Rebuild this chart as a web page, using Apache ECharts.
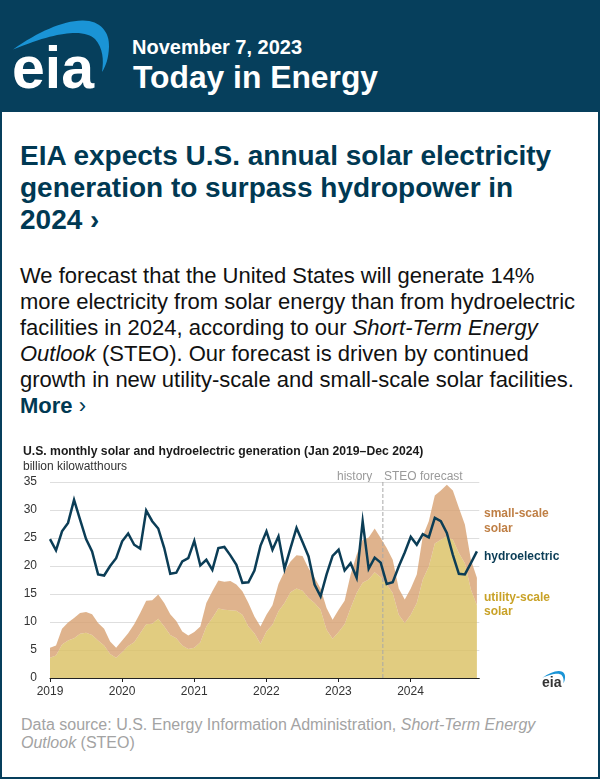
<!DOCTYPE html>
<html>
<head>
<meta charset="utf-8">
<title>Today in Energy</title>
<script src="https://cdn.jsdelivr.net/npm/echarts@6/dist/echarts.min.js"></script>
<style>
html, body { margin: 0; padding: 0; }
body { width: 600px; height: 779px; background: #063f5c; position: relative; overflow: hidden; font-family: "Liberation Sans", Arial, sans-serif; }
#panel { position: absolute; left: 2px; top: 112px; width: 596px; height: 665px; background: #fff; }
.abs { position: absolute; white-space: nowrap; }
#date { left: 132px; top: 35px; font-size: 20px; font-weight: bold; color: #fff; line-height: 24px; }
#today { left: 133px; top: 59px; font-size: 31.8px; font-weight: bold; color: #fff; line-height: 36px; }
#headline { left: 20px; top: 140px; font-size: 28px; font-weight: bold; color: #003953; line-height: 32px; }
#story { left: 20px; top: 263px; font-size: 22px; color: #111; line-height: 26px; }
#story b { color: #003953; }
#source { left: 21px; top: 716px; font-size: 16px; color: #a3a3a3; line-height: 18px; }
#leftt { position: absolute; left: 0; top: 440px; width: 600px; height: 270px; }
svg { position: absolute; }
</style>
</head>
<body>
<div id="panel"></div>
<svg style="left:0;top:0" width="125" height="105" viewBox="0 0 125 105">
  <path d="M13 49.5C38 32 62 21 82 20.5C100 20 110 32 109 47C108.500 58 106 66 102 72C104 60 103 48 95 39C86 30 62 29 13 49.5Z" fill="#1a94d6"/>
  <text x="12" y="88" font-family="Liberation Sans" font-size="59" font-weight="bold" fill="#fff">eia</text>
</svg>
<div id="date" class="abs">November 7, 2023</div>
<div id="today" class="abs">Today in Energy</div>
<div id="headline" class="abs">EIA expects U.S. annual solar electricity<br>generation to surpass hydropower in<br>2024 ›</div>
<div id="story" class="abs">We forecast that the United States will generate 14%<br>more electricity from solar energy than from hydroelectric<br>facilities in 2024, according to our <i>Short-Term Energy</i><br><i>Outlook</i> (STEO). Our forecast is driven by continued<br>growth in new utility-scale and small-scale solar facilities.<br><b>More</b> <span style="color:#003953">›</span></div>
<div id="leftt"></div>
<svg style="left:539px;top:666px" width="30" height="25" viewBox="0 0 125 105">
  <path d="M13 49.5C38 32 62 21 82 20.5C100 20 110 32 109 47C108.500 58 106 66 102 72C104 60 103 48 95 39C86 30 62 29 13 49.5Z" fill="#1a94d6"/>
  <text x="12" y="88" font-family="Liberation Sans" font-size="59" font-weight="bold" fill="#333">eia</text>
</svg>
<div id="source" class="abs">Data source: U.S. Energy Information Administration, <i>Short-Term Energy</i><br><i>Outlook</i> (STEO)</div>
<script>
var years = ['2019', '2020', '2021', '2022', '2023', '2024'];
var monthNames = ['Jan', 'Feb', 'Mar', 'Apr', 'May', 'Jun', 'Jul', 'Aug', 'Sep', 'Oct', 'Nov', 'Dec'];
// months since Jan 2019, for the frame axis
var yearTicks = [0, 12, 24, 36, 48, 60];
var forecastStart = 55.4;
var axisEnd = 71.45;

// billion kilowatthours, Jan 2019 - Dec 2024
var utility = [
  3.6, 4, 6, 6.7, 7.1, 7.9, 8.1, 7.7, 6.7, 5.8, 4.3, 3.6,
  4.6, 5.7, 6.4, 8, 9.6, 9.7, 10.6, 9.2, 7.7, 7.1, 5.8, 5.2,
  5.4, 6.4, 9.2, 10.7, 12.4, 12.2, 12.1, 12, 11.3, 9.2, 8, 6.1,
  8.3, 9.5, 11.9, 13.4, 15.3, 16, 15.6, 14.3, 13.4, 12.2, 8.6, 7,
  8.2, 9.6, 12.5, 15.2, 17, 17.6, 18.9, 18, 16.7, 15.2, 11.3, 9.8,
  11.3, 13.4, 17.6, 19.9, 24, 24.7, 25.3, 24.7, 22.3, 20.5, 15.8, 13
];
var smallScale = [
  1.8, 1.8, 2.8, 3.2, 3.6, 3.7, 3.7, 3.7, 3.1, 3, 2.2, 1.8,
  2.1, 2.3, 3.2, 3.6, 4.2, 4.2, 4.3, 4.2, 3.7, 3.1, 2.5, 2.4,
  2.8, 2.8, 4.2, 4.8, 5, 5, 5.2, 4.7, 4.2, 4.2, 3, 3.1,
  3, 3.5, 4.9, 5.6, 5.5, 5.9, 6.2, 5.3, 4.5, 3.8, 3.9, 3.4,
  4, 4.2, 6, 6.8, 7.7, 7.5, 7.8, 7, 6.5, 5.9, 4.7, 4.2,
  4.7, 5.1, 7.7, 8.1, 8.6, 8.8, 9.2, 8.8, 8.1, 6.9, 5.3, 4.9
];
var hydro = [
  24.8, 22.8, 26.2, 27.7, 31.8, 28.3, 24.8, 22.6, 18.5, 18.3, 20, 21.4,
  24.4, 25.8, 23.8, 23.1, 29.9, 28, 26.7, 23.2, 18.6, 18.8, 20.8, 21.4,
  24.5, 20.1, 21.1, 19.3, 23.2, 23.4, 21.9, 20.2, 17, 17.1, 19.2, 23.6,
  26.2, 22.9, 25.3, 19.5, 23.2, 26.8, 24.3, 21.7, 16.7, 14.6, 18.5, 21.8,
  22.9, 19.2, 20.5, 17.9, 28, 19.5, 21.5, 20.6, 16.8, 17.1, 19.9, 22.4,
  25.2, 23.8, 25.7, 25.1, 28.6, 28, 25.9, 22, 18.6, 18.5, 20.5, 22.6
];

var months = [];
years.forEach(function (y) {
  monthNames.forEach(function (m) { months.push(m + ' ' + y); });
});

var mychart = echarts.init(document.getElementById('leftt'));
var font = '"Liberation Sans", Arial, sans-serif';
var option = {
  animation: false,
  textStyle: { fontFamily: font },
  title: {
    left: 23,
    top: 6,
    text: 'U.S. monthly solar and hydroelectric generation (Jan 2019–Dec 2024)',
    subtext: 'billion kilowatthours',
    itemGap: 3,
    padding: 0,
    textStyle: { fontSize: 12.2, fontWeight: 'bold', color: '#1a1a1a', fontFamily: font },
    subtextStyle: { fontSize: 12, color: '#333', fontFamily: font }
  },
  // grid 0 is the frame (axis runs a little past Dec 2024), grid 1 holds the stacked months
  grid: [
    { left: 50, top: 42, width: 429.3, height: 196 },
    { left: 50, top: 42, width: 426.9, height: 196 }
  ],
  xAxis: [
    {
      type: 'value',
      gridIndex: 0,
      min: 0,
      max: axisEnd,
      splitLine: { show: false },
      axisLine: { show: true, onZero: false, lineStyle: { color: '#222', width: 1 } },
      axisTick: { show: true, customValues: yearTicks, length: 4, lineStyle: { color: '#222' } },
      axisLabel: {
        customValues: yearTicks,
        fontSize: 12,
        color: '#333',
        margin: 8,
        formatter: function (v) { return years[yearTicks.indexOf(v)]; }
      }
    },
    {
      type: 'category',
      gridIndex: 1,
      data: months,
      boundaryGap: false,
      show: false
    }
  ],
  yAxis: [
    {
      type: 'value',
      gridIndex: 0,
      min: 0,
      max: 35,
      interval: 5,
      axisLine: { show: false },
      axisTick: { show: false },
      axisLabel: { fontSize: 12, color: '#333', margin: 13 },
      splitLine: { lineStyle: { color: '#dedede', width: 1 } }
    },
    {
      type: 'value',
      gridIndex: 1,
      min: 0,
      max: 35,
      show: false
    }
  ],
  series: [
    {
      name: 'utility-scale solar',
      type: 'line',
      xAxisIndex: 1,
      yAxisIndex: 1,
      stack: 'solar',
      data: utility,
      symbol: 'none',
      lineStyle: { width: 0 },
      areaStyle: { color: '#d9bf60', opacity: 0.8 }
    },
    {
      name: 'small-scale solar',
      type: 'line',
      xAxisIndex: 1,
      yAxisIndex: 1,
      stack: 'solar',
      data: smallScale,
      symbol: 'none',
      lineStyle: { width: 0 },
      areaStyle: { color: '#d7a070', opacity: 0.8 }
    },
    {
      name: 'forecast start',
      type: 'line',
      xAxisIndex: 0,
      yAxisIndex: 0,
      data: [[forecastStart, 0], [forecastStart, 35]],
      symbol: 'none',
      silent: true,
      z: 4,
      lineStyle: { color: '#a8a8a8', type: 'dashed', width: 1 }
    },
    {
      name: 'hydroelectric',
      type: 'line',
      xAxisIndex: 1,
      yAxisIndex: 1,
      data: hydro,
      symbol: 'none',
      z: 5,
      lineStyle: { color: '#0b3d56', width: 2.5, join: 'miter' }
    }
  ],
  graphic: [
    { type: 'text', left: 337, top: 31, style: { text: 'history', fontSize: 12, fill: '#9a9a9a', fontFamily: font } },
    { type: 'text', left: 384, top: 31, style: { text: 'STEO forecast', fontSize: 12, fill: '#9a9a9a', fontFamily: font } },
    { type: 'text', left: 484, top: 66, style: { text: 'small-scale\nsolar', fontSize: 12, fontWeight: 'bold', lineHeight: 15, fill: '#bf7f45', fontFamily: font } },
    { type: 'text', left: 484, top: 109, style: { text: 'hydroelectric', fontSize: 12, fontWeight: 'bold', lineHeight: 15, fill: '#0b3d56', fontFamily: font } },
    { type: 'text', left: 484, top: 151, style: { text: 'utility-scale\nsolar', fontSize: 12, fontWeight: 'bold', lineHeight: 14, fill: '#c9a227', fontFamily: font } }
  ]
};
mychart.setOption(option);
</script>
</body>
</html>
